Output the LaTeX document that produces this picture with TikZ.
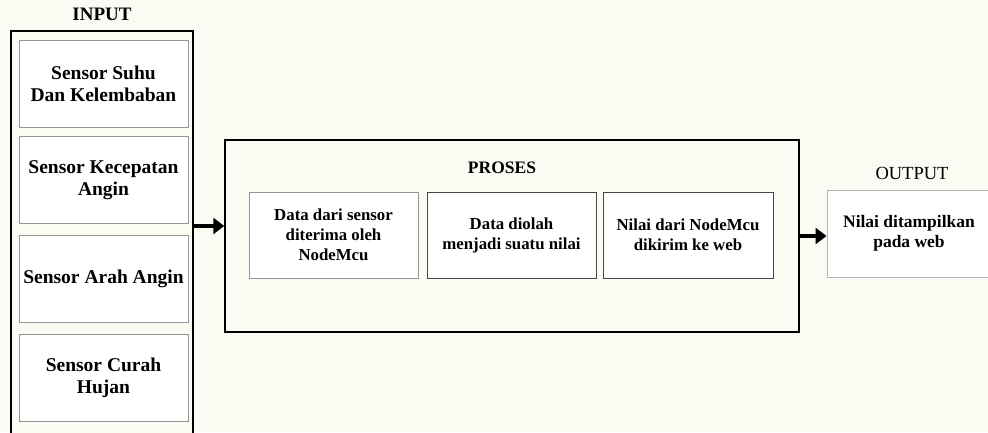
\documentclass[tikz,border=0pt]{standalone}
\usepackage{fontspec}
\setmainfont{Liberation Serif}
\usetikzlibrary{arrows.meta}

\definecolor{bgcream}{RGB}{252,251,243}
\definecolor{boxgray}{RGB}{150,150,150}
\definecolor{boxdark}{RGB}{70,70,70}

\begin{document}
\begin{tikzpicture}
        [x=1pt,y=-1pt,
         outerbox/.style={draw=black,line width=1.5pt,fill=bgcream,inner sep=0pt},
         sensorbox/.style={draw=boxgray,line width=0.9pt,fill=white,minimum width=169pt,minimum height=87pt,
                           align=center,font=\fontsize{19.5}{22}\selectfont\bfseries},
         stepbox/.style={draw=boxdark,line width=0.9pt,fill=white,minimum width=169pt,minimum height=86pt,
                         align=center,font=\fontsize{16.8}{20}\selectfont\bfseries},
         title/.style={font=\fontsize{17.5}{20}\selectfont\bfseries},
         bigarrow/.style={line width=4pt,-{Triangle[length=11pt,width=16pt]}}]
    \fill[bgcream] (0,0) rectangle (988,432);
    \useasboundingbox (0,0) rectangle (988,432);

    % input column
    \node[title,font=\fontsize{19}{20}\selectfont\bfseries] (inlabel) at (102,14) {INPUT};
    \node[outerbox,minimum width=182pt,minimum height=420pt] (inbox) at (102,241) {};
    \node[sensorbox] (suhu) at (103.5,83.5) {Sensor Suhu\\Dan Kelembaban};
    \node[sensorbox] (angin) at (103.5,180) {Sensor Kecepatan\\Angin};
    \node[sensorbox] (arah) at (103.5,278.5) {Sensor Arah Angin};
    \node[sensorbox] (hujan) at (103.5,378) {Sensor Curah\\Hujan};

    % proses
    \node[outerbox,minimum width=574pt,minimum height=192pt] (proses) at (512,236) {};
    \node[title] (proslabel) at (502,168) {PROSES};
    \node[stepbox,draw=boxgray] (terima) at (333.5,235) {Data dari sensor\\diterima oleh\\NodeMcu};
    \node[stepbox] (olah) at (511.5,235) {Data diolah\\menjadi suatu nilai};
    \node[stepbox,minimum width=170pt] (kirim) at (688,235) {Nilai dari NodeMcu\\dikirim ke web};

    % output
    \node[font=\fontsize{18.5}{20}\selectfont] (outlabel) at (912,173) {OUTPUT};
    \node[stepbox,draw=boxgray!70,minimum width=164pt,minimum height=87pt,
          font=\fontsize{17.5}{20}\selectfont\bfseries] (tampil) at (909,233.5)
        {Nilai ditampilkan\\pada web};

    \coordinate (inout) at (inbox.east |- 0,226);
    \draw[bigarrow] (inout) -- (proses.west |- inout);
    \draw[bigarrow] (proses.east |- 0,236) -- (tampil.west |- 0,236);
\end{tikzpicture}
\end{document}
